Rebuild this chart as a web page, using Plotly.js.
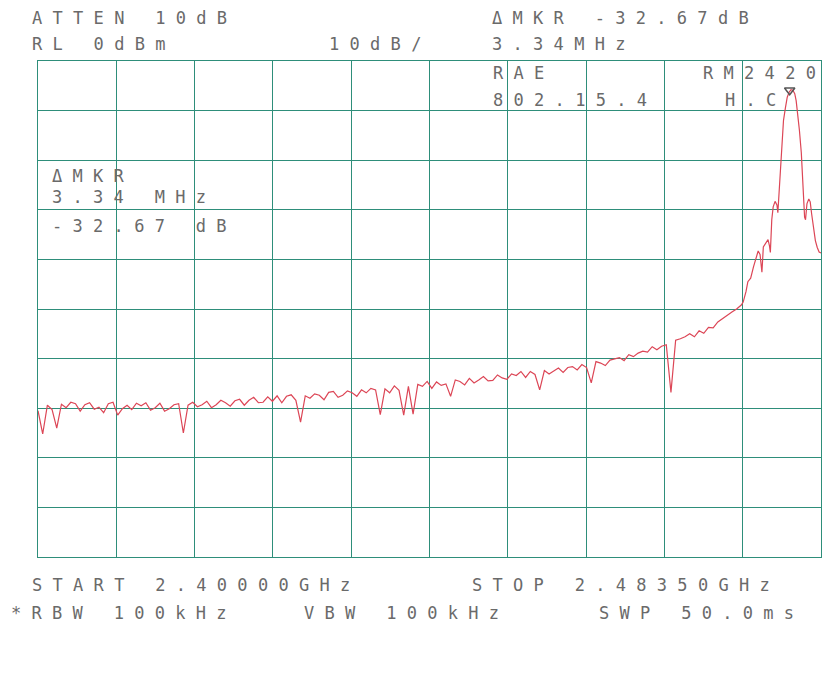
<!DOCTYPE html>
<html>
<head>
<meta charset="utf-8">
<script src="https://cdn.plot.ly/plotly-3.0.1.min.js"></script>
<style>html,body{margin:0;padding:0;background:#fff;}#chart{width:827px;height:687px;}</style>
</head>
<body>
<div id="chart"></div>
<script>
// ---- instrument settings ----
const startGHz = 2.40000;
const stopGHz = 2.48350;
const refLevelDbm = 0;
const dbPerDiv = 10;
const divisions = 10;

// ---- sweep offsets from START (MHz) ----
const sweepOffsetMHz = [
  0,0.5,1,1.5,2,2.5,3,3.5,4,4.5,
  5,5.5,6,6.5,7,7.5,8,8.5,9,9.5,
  10,10.5,11,11.5,12,12.5,13,13.5,14,14.5,
  15,15.5,16,16.5,17,17.5,18,18.5,19,19.5,
  20,20.5,21,21.5,22,22.5,23,23.5,24,24.5,
  25,25.5,26,26.5,27,27.5,28,28.5,29,29.5,
  30,30.5,31,31.5,32,32.5,33,33.5,34,34.5,
  35,35.5,36,36.5,37,37.5,38,38.5,39,39.5,
  40,40.5,41,41.5,42,42.5,43,43.5,44,44.5,
  45,45.5,46,46.5,47,47.5,48,48.5,49,49.5,
  50,50.5,51,51.5,52,52.5,53,53.5,54,54.5,
  55,55.5,56,56.5,57,57.5,58,58.5,59,59.5,
  60,60.5,61,61.5,62,62.5,63,63.5,64,64.5,
  65,65.5,66,66.5,67,67.5,68,68.5,69,69.5,
  70,70.5,71,71.5,72,72.5,73,73.5,74,74.5,
  75,75.2,75.5,75.7,76,76.3,76.5,76.8,77,77.2,
  77.35,77.6,77.85,78,78.1,78.25,78.4,78.6,78.8,78.9,
  79.05,79.2,79.35,79.5,79.7,79.9,80.1,80.3,80.5,80.7,
  80.85,81,81.2,81.4,81.6,81.75,81.85,82,82.2,82.35,
  82.5,82.7,82.9,83.1,83.3,83.5
];

// ---- trace level (dBm) ----
const traceLevelDbm = [
  -70.5,-75.2,-69.4,-70.3,-74.0,-69.2,-69.9,-68.8,-69.1,-70.6,
  -69.3,-68.9,-70.2,-69.8,-70.9,-69.1,-68.8,-71.4,-70.1,-69.4,
  -70.3,-69.0,-69.5,-68.9,-70.4,-69.9,-69.0,-70.6,-70.1,-69.3,
  -69.1,-75.0,-69.4,-68.8,-69.7,-69.3,-68.6,-69.9,-69.3,-68.4,
  -68.9,-69.6,-68.5,-68.2,-69.4,-68.4,-67.8,-68.9,-68.8,-67.7,
  -68.6,-67.5,-68.9,-67.6,-67.3,-68.4,-72.8,-67.5,-68.0,-67.1,
  -67.4,-68.3,-66.8,-66.6,-67.8,-67.4,-66.5,-66.9,-67.6,-66.3,
  -66.9,-66.0,-66.3,-71.3,-66.1,-66.9,-65.5,-66.4,-71.4,-65.6,
  -71.2,-65.2,-65.6,-64.6,-66.0,-64.7,-65.4,-65.1,-67.6,-64.3,
  -64.6,-65.3,-64.0,-64.9,-64.3,-63.6,-64.5,-64.4,-63.3,-63.9,
  -64.2,-63.1,-63.4,-62.6,-63.8,-62.6,-63.2,-66.3,-62.4,-63.1,
  -62.5,-61.9,-62.8,-61.8,-61.6,-62.3,-61.2,-61.8,-64.9,-60.6,
  -60.9,-61.4,-60.3,-60.1,-59.8,-60.4,-59.2,-59.6,-58.9,-58.5,
  -58.7,-57.6,-58.2,-57.5,-57.2,-66.8,-56.3,-56.0,-55.6,-55.0,
  -55.6,-54.4,-54.9,-53.7,-53.8,-52.6,-51.9,-51.2,-50.6,-50.0,
  -49.2,-48.6,-46.5,-44.5,-43.8,-41.5,-40.2,-38.3,-39.0,-42.6,
  -37.5,-36.8,-36.0,-37.2,-38.6,-32.0,-29.4,-28.3,-29.0,-30.6,
  -26.0,-20.0,-15.0,-12.0,-9.5,-7.3,-6.3,-5.8,-5.9,-6.6,
  -8.0,-10.5,-14.0,-18.5,-25.5,-31.5,-32.0,-28.8,-27.8,-28.4,
  -30.8,-34.0,-36.2,-37.6,-38.5,-38.7
];

// ---- markers ----
const refMarkerGHz = [2.48016];
const refMarkerDbm = [-5.9];
const deltaMarkerMHz = 3.34;
const deltaMarkerDb = -32.67;

// ---- readout texts ----
const topLeftLines = ["ATTEN 10dB", "RL 0dBm"];
const scaleLabel = "10dB/";
const topRightLines = ["\u0394MKR -32.67dB", "3.34MHz"];
const titleLines = ["RAE", "802.15.4"];
const deviceLines = ["RM2420", "H.C"];
const markerBoxLines = ["\u0394MKR", "3.34 MHz", "-32.67 dB"];
const bottomLine1 = ["START 2.40000GHz", "STOP 2.48350GHz"];
const bottomLine2 = ["*RBW 100kHz", "VBW 100kHz", "SWP 50.0ms"];

const freqGHz = sweepOffsetMHz.map(f => startGHz + f / 1000);
const deltaGHz = [refMarkerGHz[0] + deltaMarkerMHz / 1000];
const deltaDbm = [refMarkerDbm[0] + deltaMarkerDb];

const gridColor = "#2e8e7a";
const textColor = "#6a6a6a";
const fontFamily = "DejaVu Sans Mono";

function spaced(t) {
  return '<span style="letter-spacing:10.3px">' + t + '</span>';
}
function ann(text, x, y) {
  return {
    text: spaced(text), x: x, y: y, xref: "paper", yref: "paper",
    xanchor: "left", yanchor: "middle", showarrow: false,
    font: {family: fontFamily, size: 17, color: textColor},
    borderpad: 0
  };
}

const annotations = [
  ann(topLeftLines[0], -0.009, 1.0867),
  ann(topLeftLines[1], -0.009, 1.0343),
  ann(scaleLabel, 0.370, 1.0343),
  ann(topRightLines[0], 0.578, 1.0867),
  ann(topRightLines[1], 0.578, 1.0343),
  ann(titleLines[0], 0.580, 0.9758),
  ann(titleLines[1], 0.580, 0.9214),
  ann(deviceLines[0], 0.848, 0.9758),
  ann(deviceLines[1], 0.876, 0.9214),
  ann(markerBoxLines[0], 0.017, 0.7681),
  ann(markerBoxLines[1], 0.017, 0.7258),
  ann(markerBoxLines[2], 0.017, 0.6673),
  ann(bottomLine1[0], -0.009, -0.0565),
  ann(bottomLine1[1], 0.553, -0.0565),
  ann(bottomLine2[0], -0.036, -0.1129),
  ann(bottomLine2[1], 0.338, -0.1129),
  ann(bottomLine2[2], 0.715, -0.1129)
];

const data = [
  {
    x: freqGHz, y: traceLevelDbm, type: "scatter", mode: "lines",
    line: {color: "#dc4656", width: 1.2}, hoverinfo: "skip"
  },
  {
    x: refMarkerGHz, y: refMarkerDbm, type: "scatter", mode: "markers",
    marker: {symbol: "triangle-down-open", size: 9, color: "#555", line: {width: 1.5, color: "#555"}},
    hoverinfo: "skip"
  },
  {
    x: deltaGHz, y: deltaDbm, type: "scatter", mode: "markers",
    marker: {symbol: "diamond-open", size: 7, color: "#555", line: {width: 1.5, color: "#555"}},
    hoverinfo: "skip", cliponaxis: false
  }
];

const layout = {
  width: 827, height: 687,
  margin: {l: 38, r: 6, t: 61, b: 130, pad: 0},
  paper_bgcolor: "#ffffff", plot_bgcolor: "#ffffff",
  showlegend: false,
  xaxis: {
    range: [startGHz, stopGHz], tick0: startGHz, dtick: (stopGHz - startGHz) / divisions,
    showticklabels: false, ticks: "", showgrid: true, gridcolor: gridColor, gridwidth: 1,
    zeroline: false, showline: true, linecolor: gridColor, linewidth: 1, mirror: true, fixedrange: true
  },
  yaxis: {
    range: [refLevelDbm - dbPerDiv * divisions, refLevelDbm], tick0: 0, dtick: dbPerDiv,
    showticklabels: false, ticks: "", showgrid: true, gridcolor: gridColor, gridwidth: 1,
    zeroline: false, showline: true, linecolor: gridColor, linewidth: 1, mirror: true, fixedrange: true
  },
  annotations: annotations
};

Plotly.newPlot("chart", data, layout, {staticPlot: true, displayModeBar: false});
</script>
</body>
</html>
